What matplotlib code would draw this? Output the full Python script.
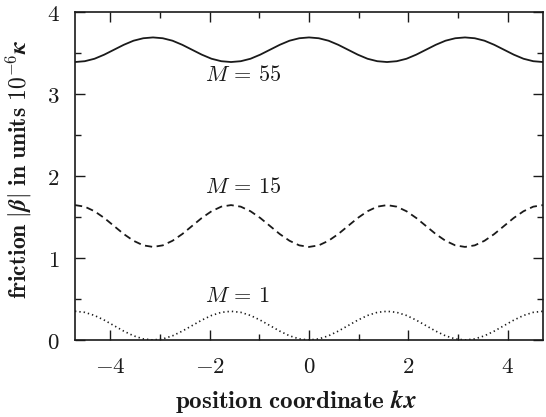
import numpy as np
import matplotlib
matplotlib.use("Agg")
import matplotlib.pyplot as plt
from matplotlib.ticker import MultipleLocator

plt.rcParams["mathtext.fontset"] = "cm"

kx = np.linspace(-1.5 * np.pi, 1.5 * np.pi, 49)

friction_m55 = [3.39, 3.40, 3.43, 3.48, 3.54, 3.60, 3.65, 3.68,
                3.69, 3.68, 3.65, 3.60, 3.54, 3.48, 3.43, 3.40,
                3.39, 3.40, 3.43, 3.48, 3.54, 3.60, 3.65, 3.68,
                3.69, 3.68, 3.65, 3.60, 3.54, 3.48, 3.43, 3.40,
                3.39, 3.40, 3.43, 3.48, 3.54, 3.60, 3.65, 3.68,
                3.69, 3.68, 3.65, 3.60, 3.54, 3.48, 3.43, 3.40,
                3.39]

friction_m15 = [1.645, 1.626, 1.570, 1.488, 1.390, 1.292, 1.210, 1.154,
                1.135, 1.154, 1.210, 1.292, 1.390, 1.488, 1.570, 1.626,
                1.645, 1.626, 1.570, 1.488, 1.390, 1.292, 1.210, 1.154,
                1.135, 1.154, 1.210, 1.292, 1.390, 1.488, 1.570, 1.626,
                1.645, 1.626, 1.570, 1.488, 1.390, 1.292, 1.210, 1.154,
                1.135, 1.154, 1.210, 1.292, 1.390, 1.488, 1.570, 1.626,
                1.645]

friction_m1 = [0.350, 0.337, 0.299, 0.242, 0.175, 0.108, 0.051, 0.013,
               0.000, 0.013, 0.051, 0.108, 0.175, 0.242, 0.299, 0.337,
               0.350, 0.337, 0.299, 0.242, 0.175, 0.108, 0.051, 0.013,
               0.000, 0.013, 0.051, 0.108, 0.175, 0.242, 0.299, 0.337,
               0.350, 0.337, 0.299, 0.242, 0.175, 0.108, 0.051, 0.013,
               0.000, 0.013, 0.051, 0.108, 0.175, 0.242, 0.299, 0.337,
               0.350]

labels = [r"$M\,=\,55$", r"$M\,=\,15$", r"$M\,=\,1$"]
label_pos = [(-2.09, 3.23), (-2.09, 1.87), (-2.09, 0.54)]

xtick_vals = [-4, -2, 0, 2, 4]
ytick_vals = [0, 1, 2, 3, 4]

INK = "#1a1a1a"

# === FIGURE ===
fig = plt.figure(figsize=(5.46, 4.17), dpi=100)
ax = fig.add_axes([0.1374, 0.1847, 0.8571, 0.7865])

ax.plot(kx, friction_m55, color=INK, lw=1.3, ls="-")
ax.plot(kx, friction_m15, color=INK, lw=1.3, ls=(0, (4, 2.5)))
ax.plot(kx, friction_m1, color=INK, lw=1.2, ls=(0, (0.8, 1.8)))

for txt, (x, y) in zip(labels, label_pos):
    ax.text(x, y, txt, fontsize=16, color=INK, ha="left", va="center")

ax.set_xticks(xtick_vals)
ax.set_xticklabels([r"$%d$" % v for v in xtick_vals])
ax.set_yticks(ytick_vals)
ax.set_yticklabels([r"$%d$" % v for v in ytick_vals])
ax.xaxis.set_minor_locator(MultipleLocator(1))
ax.yaxis.set_minor_locator(MultipleLocator(0.5))
ax.set_xlim(-1.5 * np.pi, 1.5 * np.pi)
ax.set_ylim(0, 4)

ax.tick_params(which="both", direction="in", top=True, right=True,
               colors=INK, labelsize=16.5, width=1.0)
ax.tick_params(which="major", length=7)
ax.tick_params(axis="x", which="major", pad=11)
ax.tick_params(axis="y", which="major", pad=11)
ax.tick_params(which="minor", length=4)

for s in ax.spines.values():
    s.set_linewidth(1.2)
    s.set_color(INK)

ax.set_xlabel(r"$\mathbf{position\ coordinate}\ \mathbfit{kx}$",
              fontsize=18, color=INK)
ax.set_ylabel(r"$\mathbf{friction}\ |\mathbfit{\beta}|\ \mathbf{in\ units\ 10^{-6}}\mathbfit{\kappa}$",
              fontsize=17, color=INK)
ax.xaxis.set_label_coords(0.472, -0.146)
ax.yaxis.set_label_coords(-0.088, 0.52)

fig.savefig("out.png", dpi=100)
